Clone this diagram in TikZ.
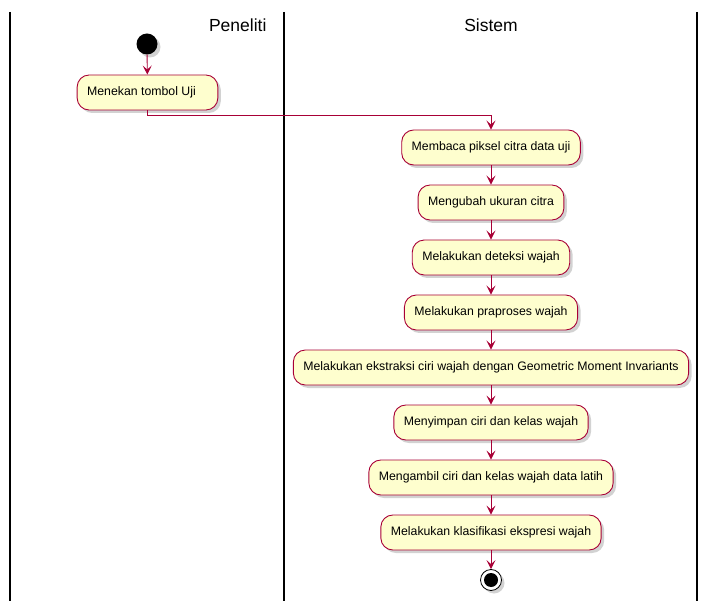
\documentclass[tikz,border=0pt]{standalone}
\usepackage{fontspec}
\setmainfont{Liberation Sans}
\usetikzlibrary{arrows.meta, shadows}
\definecolor{actfill}{HTML}{FEFECE}
\definecolor{actline}{HTML}{A80036}
\tikzset{
    act/.style={draw=actline, fill=actfill, line width=0.9pt, rounded corners=12pt,
        minimum height=35pt, inner xsep=10pt, font=\fontsize{12.3}{14}\selectfont,
        drop shadow={shadow xshift=3pt, shadow yshift=-3pt, fill=black!35}},
    flow/.style={draw=actline, line width=0.9pt, -{Stealth[length=9pt,width=9pt,inset=4pt]}},
    lane/.style={line width=1.4pt},
    lanetitle/.style={font=\fontsize{17.5}{20}\selectfont}
}
\begin{document}
\begin{tikzpicture}[x=1pt, y=-1pt]
    \useasboundingbox (0,0) rectangle (709,601);
    \foreach \x in {10,284,697}{
        \draw[lane] (\x,12) -- (\x,601);
    }
    \node[lanetitle, anchor=east] (tpeneliti) at (270,25) {Peneliti};
    \node[lanetitle] (tsistem) at (491,25) {Sistem};
    \node[circle, fill=black, minimum size=21pt, inner sep=0pt,
        drop shadow={shadow xshift=3pt, shadow yshift=-3pt, fill=black!35}] (start) at (147,44) {};
    \node[act] (tekan) at (147.5,92.5) {Menekan tombol Uji\kern12pt};
    \foreach \n/\y/\t in {1/147.5/Membaca piksel citra data uji,
                          2/202.5/Mengubah ukuran citra,
                          3/257.5/Melakukan deteksi wajah,
                          4/312.5/Melakukan praproses wajah,
                          5/367.5/Melakukan ekstraksi ciri wajah dengan Geometric Moment Invariants,
                          6/422.5/Menyimpan ciri dan kelas wajah,
                          7/477.5/Mengambil ciri dan kelas wajah data latih,
                          8/532.5/Melakukan klasifikasi ekspresi wajah}{
        \node[act] (s\n) at (491,\y) {\t};
    }
    \node[circle, draw=black, fill=white, line width=0.8pt, minimum size=21pt, inner sep=0pt,
        drop shadow={shadow xshift=3pt, shadow yshift=-3pt, fill=black!35}] (stop) at (491,580) {};
    \node[circle, fill=black, minimum size=14pt, inner sep=0pt] (stopdot) at (stop) {};
    \draw[flow] (start) -- (tekan);
    \draw[flow] (tekan.south) -- ++(0,5) -| (s1.north);
    \foreach \i [evaluate=\i as \j using int(\i+1)] in {1,...,7}{
        \draw[flow] (s\i) -- (s\j);
    }
    \draw[flow] (s8) -- (stop);
\end{tikzpicture}
\end{document}
